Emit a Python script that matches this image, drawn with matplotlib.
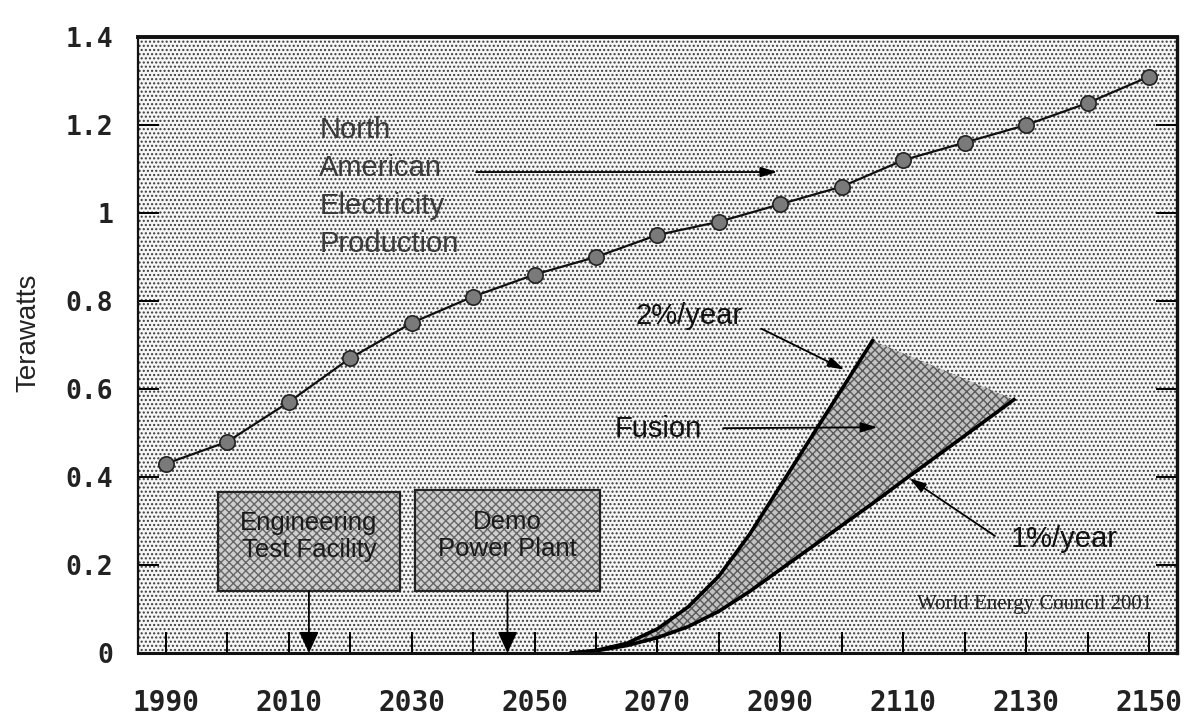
import numpy as np
import matplotlib
matplotlib.use('Agg')
import matplotlib.pyplot as plt
from matplotlib.patches import Rectangle

# North American electricity production, terawatts, one point per decade
years = list(range(1990, 2151, 10))
production = [0.43, 0.48, 0.57, 0.67, 0.75, 0.81, 0.86, 0.90, 0.95,
              0.98, 1.02, 1.06, 1.12, 1.16, 1.20, 1.25, 1.31]

# fusion share, 2%/year penetration
fast_years = [2056, 2060, 2065, 2070, 2075, 2080, 2085, 2090, 2095, 2100, 2105]
fast_growth = [0.0, 0.006, 0.022, 0.055, 0.105, 0.175, 0.27, 0.38, 0.49, 0.60, 0.71]

# fusion share, 1%/year penetration
slow_years = [2056, 2060, 2065, 2070, 2075, 2080, 2085, 2090, 2095, 2100,
              2105, 2110, 2115, 2120, 2125, 2128]
slow_growth = [0.0, 0.005, 0.017, 0.035, 0.06, 0.095, 0.14, 0.19, 0.24, 0.29,
               0.34, 0.392, 0.443, 0.494, 0.545, 0.576]

y_ticks = [0, 0.2, 0.4, 0.6, 0.8, 1.0, 1.2, 1.4]
y_labels = ['0', '0.2', '0.4', '0.6', '0.8', '1', '1.2', '1.4']
x_ticks = list(range(1990, 2151, 10))
x_labels = [str(t) if (t - 1990) % 20 == 0 else '' for t in x_ticks]

fig = plt.figure(figsize=(11.9, 7.24), dpi=100)
ax = fig.add_axes([0.116, 0.098, 0.873, 0.851])
ax.set_xlim(1985.5, 2154.5)
ax.set_ylim(0, 1.4)

# stippled background like the scanned slide
ax.add_patch(Rectangle((0, 0), 1, 1, transform=ax.transAxes, facecolor='#f6f6f6',
                       edgecolor='#3c3c3c', hatch='....', lw=0, zorder=0))


def shaded_box(x0, x1, y0, y1, text):
    ax.add_patch(Rectangle((x0, y0), x1 - x0, y1 - y0, facecolor='#cfcfcf',
                           edgecolor='#666666', hatch='xxxx', lw=0, zorder=2))
    ax.add_patch(Rectangle((x0, y0), x1 - x0, y1 - y0, facecolor='none',
                           edgecolor='#222222', lw=1.6, zorder=3))
    ax.text((x0 + x1) / 2, (y0 + y1) / 2 + 0.012, text, ha='center', va='center',
            fontsize=18.5, family='Liberation Sans', color='#1a1a1a',
            linespacing=1.15, zorder=4)
    xm = (x0 + x1) / 2
    ax.annotate('', xy=(xm, 0.0), xytext=(xm, y0),
                arrowprops=dict(arrowstyle='-|>,head_length=1.3,head_width=0.6',
                                color='black', lw=1.3, shrinkA=0, shrinkB=0),
                zorder=4)


shaded_box(1998.5, 2028.1, 0.14, 0.365, 'Engineering\nTest Facility')
shaded_box(2030.5, 2060.7, 0.14, 0.37, 'Demo\nPower Plant')

# fusion band between the two growth rates
band_x = np.r_[fast_years, slow_years[::-1]]
band_y = np.r_[fast_growth, slow_growth[::-1]]
ax.fill(band_x, band_y, facecolor='#c2c2c2', edgecolor='#5a5a5a', hatch='xxxx',
        lw=0, zorder=2)
ax.plot(fast_years, fast_growth, color='black', lw=2.6, zorder=3)
ax.plot(slow_years, slow_growth, color='black', lw=2.6, zorder=3)

ax.plot(years, production, color='#111111', lw=1.6, marker='o', markersize=11,
        markerfacecolor='#7a7a7a', markeredgecolor='#222222', markeredgewidth=1.2,
        zorder=5)

small_head = dict(arrowstyle='-|>,head_length=1.0,head_width=0.3', color='black',
                  lw=1.3, shrinkA=0, shrinkB=0)

ax.text(2015.0, 1.22, 'North\nAmerican\nElectricity\nProduction', ha='left', va='top',
        fontsize=21, family='Liberation Sans', color='#3a3a3a', linespacing=1.45,
        zorder=6)
ax.annotate('', xy=(2089.5, 1.093), xytext=(2040.5, 1.093), arrowprops=small_head,
            zorder=6)

ax.text(2066.4, 0.767, '2%/year', ha='left', va='center', fontsize=21,
        family='Liberation Sans', color='#111111', zorder=6)
ax.annotate('', xy=(2100.4, 0.644), xytext=(2086.9, 0.737), arrowprops=small_head,
            zorder=6)

ax.text(2063.0, 0.509, 'Fusion', ha='left', va='center', fontsize=21,
        family='Liberation Sans', color='#111111', zorder=6)
ax.annotate('', xy=(2105.8, 0.513), xytext=(2080.7, 0.511), arrowprops=small_head,
            zorder=6)

ax.text(2127.4, 0.26, '1%/year', ha='left', va='center', fontsize=21,
        family='Liberation Sans', color='#111111', zorder=6)
ax.annotate('', xy=(2111.0, 0.397), xytext=(2124.9, 0.266), arrowprops=small_head,
            zorder=6)

ax.text(2150.5, 0.11, 'World Energy Council 2001', ha='right', va='center',
        fontsize=15, family='Liberation Serif', color='#222222', zorder=6)

# axes frame and ticks
for side in ['left', 'bottom', 'right', 'top']:
    ax.spines[side].set_color('#111111')
    ax.spines[side].set_zorder(7)
ax.spines['top'].set_linewidth(2.8)
ax.spines['right'].set_linewidth(2.4)
ax.spines['bottom'].set_linewidth(2.2)
ax.spines['left'].set_linewidth(1.6)

ax.set_yticks(y_ticks)
ax.set_yticklabels(y_labels)
ax.set_xticks(x_ticks)
ax.set_xticklabels(x_labels)
ax.tick_params(axis='y', direction='in', length=15, width=1.4, pad=18,
               left=True, right=True, labelsize=19, labelcolor='#222222')
ax.tick_params(axis='x', direction='in', length=15, width=1.4, pad=26,
               labelsize=20, labelcolor='#222222')
for lab in ax.get_xticklabels() + ax.get_yticklabels():
    lab.set_family('DejaVu Sans Mono')
    lab.set_fontweight('bold')

fig.text(28 / 1190, 1 - 333 / 724, 'Terawatts', rotation=90, ha='center', va='center',
         fontsize=20, family='Liberation Sans', color='#222222')

fig.savefig('out.png', dpi=100)
